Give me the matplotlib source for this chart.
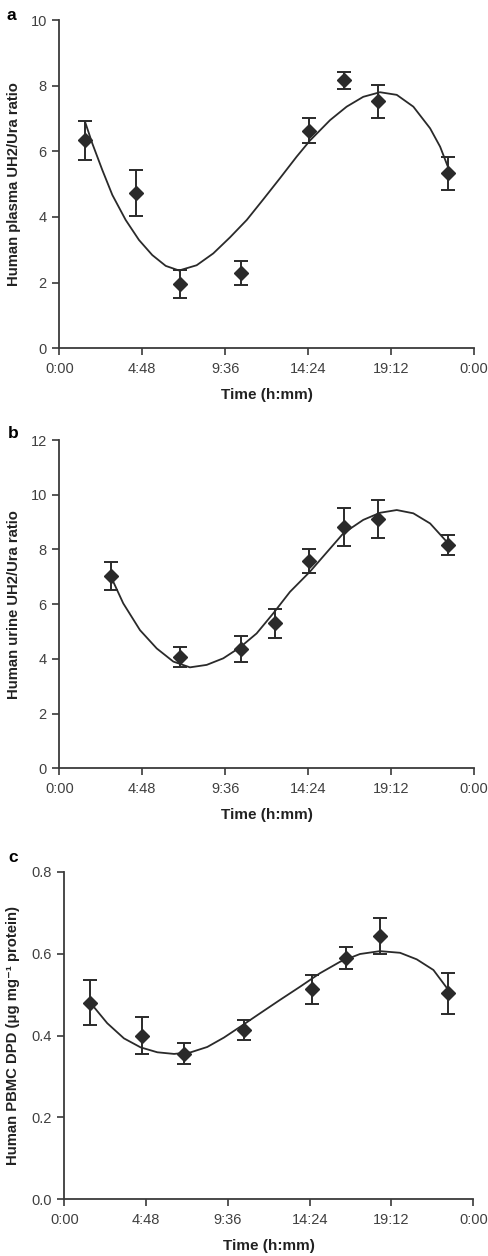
import matplotlib
matplotlib.use("Agg")
import matplotlib.pyplot as plt
import numpy as np

plt.rcParams['font.family'] = ['Liberation Sans', 'DejaVu Sans']

# ---- Data (time in hours) ----
a_time = [1.49, 4.44, 6.98, 10.51, 14.47, 16.50, 18.46, 22.51]
a_mean = [6.33, 4.72, 1.96, 2.30, 6.63, 8.17, 7.53, 5.33]
a_err = [0.58, 0.70, 0.44, 0.36, 0.38, 0.26, 0.50, 0.51]
a_fit_t = [1.49, 1.91, 2.49, 3.07, 3.84, 4.61, 5.38, 6.16, 6.93, 7.95, 8.91, 9.88,
           10.85, 11.81, 12.77, 13.74, 14.51, 15.67, 16.63, 17.59, 18.56, 19.53, 20.49,
           21.46, 22.04, 22.51]
a_fit_v = [6.90, 6.24, 5.43, 4.67, 3.91, 3.30, 2.84, 2.51, 2.37, 2.53, 2.89, 3.38,
           3.91, 4.54, 5.18, 5.84, 6.33, 6.95, 7.36, 7.66, 7.80, 7.72, 7.36,
           6.70, 6.14, 5.50]

b_time = [2.99, 6.98, 10.51, 12.50, 14.47, 16.50, 18.46, 22.51]
b_mean = [7.03, 4.08, 4.37, 5.30, 7.58, 8.83, 9.11, 8.16]
b_err = [0.50, 0.37, 0.48, 0.53, 0.45, 0.70, 0.70, 0.37]
b_fit_t = [2.97, 3.70, 4.67, 5.64, 6.60, 7.56, 8.53, 9.49, 10.46, 11.42, 12.39, 13.35,
           14.51, 16.44, 17.59, 18.56, 19.53, 20.49, 21.46, 22.51]
b_fit_v = [7.03, 6.03, 5.05, 4.38, 3.90, 3.69, 3.78, 4.02, 4.42, 4.93, 5.67, 6.45,
           7.19, 8.59, 9.08, 9.34, 9.44, 9.32, 8.95, 8.22]

c_time = [1.51, 4.56, 7.04, 10.54, 14.51, 16.53, 18.52, 22.53]
c_mean = [0.480, 0.400, 0.356, 0.413, 0.513, 0.589, 0.643, 0.503]
c_err = [0.055, 0.045, 0.026, 0.025, 0.035, 0.027, 0.045, 0.050]
c_fit_t = [1.55, 2.52, 3.50, 4.48, 5.46, 6.44, 7.42, 8.39, 9.37, 10.31, 11.48, 12.66,
           13.83, 15.00, 16.18, 17.35, 18.52, 19.70, 20.68, 21.66, 22.54]
c_fit_v = [0.479, 0.430, 0.393, 0.371, 0.359, 0.355, 0.359, 0.372, 0.395, 0.421, 0.454, 0.487,
           0.519, 0.552, 0.580, 0.599, 0.606, 0.602, 0.586, 0.560, 0.511]

xtick_pos = [0, 4.8, 9.6, 14.4, 19.2, 24]
xtick_labels = ['0:00', '4:48', '9:36', '14:24', '19:12', '0:00']

W, H = 489, 1256
fig = plt.figure(figsize=(W / 100, H / 100), dpi=100)

dark = '#2a2a2a'
axcol = '#3a3a3a'
tickcol = '#404040'

def make_ax(rect_px, t, m, e, ft, fv, ylim, yticks, yticklabels, ylabel, letter, letter_xy, ylab_x):
    l, r, b, tp = rect_px
    ax = fig.add_axes([l / W, 1 - b / H, (r - l) / W, (b - tp) / H])
    ax.plot(ft, fv, color=dark, lw=1.3, zorder=2, solid_joinstyle='round')
    ax.errorbar(t, m, yerr=e, fmt='D', color=dark, ms=7.2, mec=dark, mfc=dark,
                ecolor=dark, elinewidth=1.4, capsize=4.8, capthick=1.4, zorder=3)
    ax.set_xlim(0, 24)
    ax.set_ylim(*ylim)
    ax.set_xticks(xtick_pos)
    ax.set_xticklabels(xtick_labels)
    ax.set_yticks(yticks)
    ax.set_yticklabels(yticklabels)
    for s in ['top', 'right']:
        ax.spines[s].set_visible(False)
    for s in ['left', 'bottom']:
        ax.spines[s].set_color(axcol)
        ax.spines[s].set_linewidth(1.3)
    ax.tick_params(axis='x', direction='out', length=5, width=1.2, color=axcol,
                   labelsize=10.5, labelcolor=tickcol, pad=5)
    ax.tick_params(axis='y', direction='out', length=5, width=1.2, color=axcol,
                   labelsize=10.5, labelcolor=tickcol, pad=4)
    ax.set_xlabel('Time (h:mm)', fontsize=11, fontweight='bold', color='#222222')
    ax.xaxis.set_label_coords(0.5, -40 / (b - tp))
    ax.set_ylabel(ylabel, fontsize=10.7, fontweight='bold', color='#222222')
    ax.yaxis.set_label_coords((ylab_x - l) / (r - l), 0.5)
    fig.text(letter_xy[0] / W, 1 - letter_xy[1] / H, letter, fontsize=12.5,
             fontweight='bold', ha='left', va='center')
    ax.patch.set_alpha(0)
    return ax

make_ax((59.3, 474, 348.3, 20), a_time, a_mean, a_err, a_fit_t, a_fit_v,
        (0, 10), [0, 2, 4, 6, 8, 10], ['0', '2', '4', '6', '8', '10'],
        'Human plasma UH2/Ura ratio', 'a', (7, 15), 21)

make_ax((59.3, 474, 768.3, 440), b_time, b_mean, b_err, b_fit_t, b_fit_v,
        (0, 12), [0, 2, 4, 6, 8, 10, 12], ['0', '2', '4', '6', '8', '10', '12'],
        'Human urine UH2/Ura ratio', 'b', (8, 434), 21)

make_ax((64.3, 473.3, 1199.3, 871.7), c_time, c_mean, c_err, c_fit_t, c_fit_v,
        (0, 0.8), [0, 0.2, 0.4, 0.6, 0.8], ['0.0', '0.2', '0.4', '0.6', '0.8'],
        'Human PBMC DPD (\u03bcg mg\u207b\u00b9 protein)', 'c', (8, 858), 20)

fig.savefig('out.png', dpi=100)
